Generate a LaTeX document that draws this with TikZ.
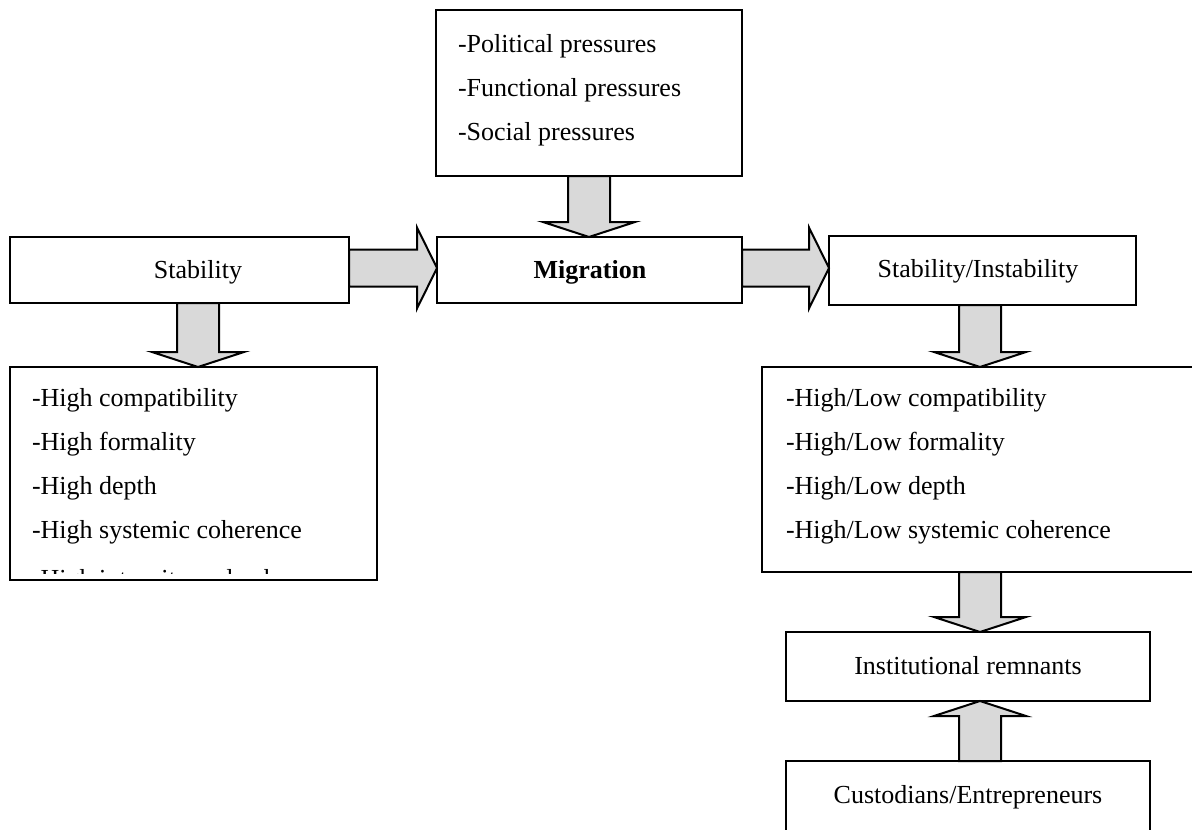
\documentclass[tikz,border=0pt]{standalone}
\usepackage{fontspec}
\setmainfont{Liberation Serif}
\usetikzlibrary{calc}

\definecolor{arrowgray}{RGB}{217,217,217}

\tikzset{
  box/.style={draw, line width=2pt, inner sep=0pt, outer sep=0pt, fill=white},
  txt/.style={inner sep=0pt, outer sep=0pt, font=\fontsize{26}{31}\selectfont},
  blockarrow/.style={draw, line width=2pt, fill=arrowgray, line join=miter},
}

% block arrows between two named points (start, tip)
\newcommand\downblock[2]{%
  \filldraw[blockarrow] let \p1=(#1), \p2=(#2) in
    (\x1-21pt,\y1) -- (\x1-21pt,\y2+15pt) -- (\x1-46pt,\y2+15pt) -- (\x1,\y2)
    -- (\x1+46pt,\y2+15pt) -- (\x1+21pt,\y2+15pt) -- (\x1+21pt,\y1) -- cycle;}
\newcommand\upblock[2]{%
  \filldraw[blockarrow] let \p1=(#1), \p2=(#2) in
    (\x1-21pt,\y1) -- (\x1-21pt,\y2-15pt) -- (\x1-46pt,\y2-15pt) -- (\x1,\y2)
    -- (\x1+46pt,\y2-15pt) -- (\x1+21pt,\y2-15pt) -- (\x1+21pt,\y1) -- cycle;}
\newcommand\rightblock[2]{%
  \filldraw[blockarrow] let \p1=(#1), \p2=(#2) in
    (\x1,\y2+18.5pt) -- (\x2-20pt,\y2+18.5pt) -- (\x2-20pt,\y2+40.5pt) -- (\x2,\y2)
    -- (\x2-20pt,\y2-40.5pt) -- (\x2-20pt,\y2-18.5pt) -- (\x1,\y2-18.5pt) -- cycle;}

\begin{document}
\begin{tikzpicture}[x=1pt,y=-1pt]
\useasboundingbox (0,0) rectangle (1192,830);
\clip (0,0) rectangle (1192,830);

% boxes
\node[box, minimum width=306, minimum height=166] (press) at (589,93) {};
\node[box, minimum width=339, minimum height=66] (stab) at (179.5,270) {};
\node[box, minimum width=305, minimum height=66] (mig) at (589.5,270) {};
\node[box, minimum width=307, minimum height=69] (si) at (982.5,270.5) {};
\node[box, minimum width=367, minimum height=213] (lhigh) at (193.5,473.5) {};
\node[box, minimum width=478, minimum height=205] (rhigh) at (1001,469.5) {};
\node[box, minimum width=364, minimum height=69] (inst) at (968,666.5) {};
\node[box, minimum width=364, minimum height=139] (cust) at (968,830.5) {};

% pressures
\node[txt, anchor=base west] (p1) at (458,52) {-Political pressures};
\node[txt, anchor=base west] (p2) at (458,96) {-Functional pressures};
\node[txt, anchor=base west] (p3) at (458,140) {-Social pressures};

% single-line labels
\node[txt, anchor=base] (stabtxt) at (198,278) {Stability};
\node[txt, anchor=base, font=\fontsize{26}{31}\selectfont\bfseries] (migtxt) at (590,278) {Migration};
\node[txt, anchor=base] (sitxt) at (978,277) {Stability/Instability};
\node[txt, anchor=base] (insttxt) at (968,674) {Institutional remnants};
\node[txt, anchor=base] (custtxt) at (968,803) {Custodians/Entrepreneurs};

% left list, cut off by its frame
\begin{scope}
  \clip (11,368) rectangle (376,573);
  \node[txt, anchor=base west] (l1) at (32,406) {-High compatibility};
  \node[txt, anchor=base west] (l2) at (32,450) {-High formality};
  \node[txt, anchor=base west] (l3) at (32,494) {-High depth};
  \node[txt, anchor=base west] (l4) at (32,538) {-High systemic coherence};
  \node[txt, anchor=base west] (l5) at (32,587) {-High intensity and coherence};
\end{scope}

% right list
\node[txt, anchor=base west] (r1) at (786,406) {-High/Low compatibility};
\node[txt, anchor=base west] (r2) at (786,450) {-High/Low formality};
\node[txt, anchor=base west] (r3) at (786,494) {-High/Low depth};
\node[txt, anchor=base west] (r4) at (786,538) {-High/Low systemic coherence};

% reference lines for arrow placement
\coordinate (rcol) at (980,0);
\coordinate (hrow) at (0,268);

% arrows
\downblock{press.south}{mig.north}
\downblock{stab.south -| stabtxt}{lhigh.north -| stabtxt}
\rightblock{stab.east |- hrow}{mig.west |- hrow}
\rightblock{mig.east |- hrow}{si.west |- hrow}
\downblock{si.south -| rcol}{rhigh.north -| rcol}
\downblock{rhigh.south -| rcol}{inst.north -| rcol}
\upblock{cust.north -| rcol}{inst.south -| rcol}
\end{tikzpicture}
\end{document}
